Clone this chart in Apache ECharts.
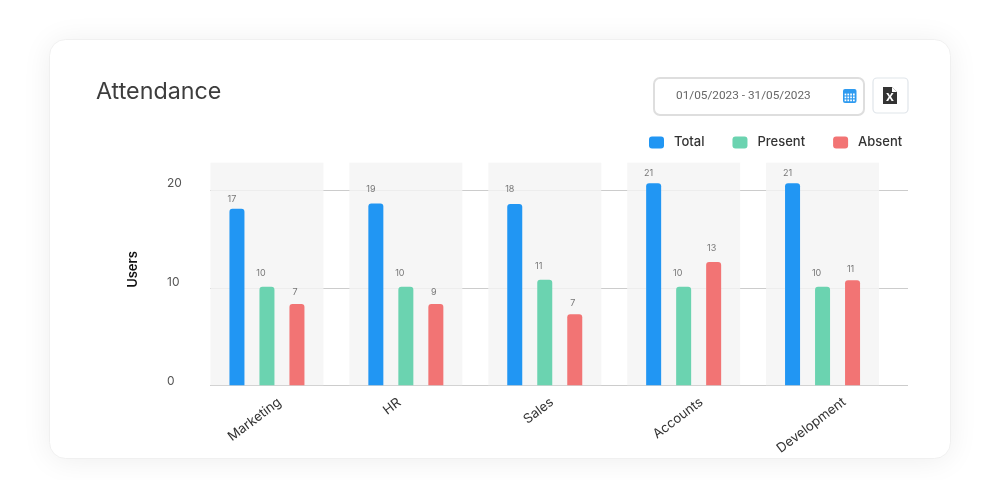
<!DOCTYPE html>
<html><head><meta charset="utf-8">
<style>html,body{margin:0;padding:0;background:#fff}#c{width:999px;height:480px}</style>
<script src="https://cdn.jsdelivr.net/npm/echarts@6/dist/echarts.min.js"></script>
</head><body><div id="c"></div>
<script>
const categories = ['Marketing','HR','Sales','Accounts','Development'];
const seriesNames = ['Total','Present','Absent'];
// bar heights as drawn
const totalBars = [17.9,18.45,18.4,20.5,20.5];
const presentBars = [10,10,10.7,10,10];
const absentBars = [8.25,8.25,7.2,12.5,10.65];
// numbers printed above the bars
const totalLabels = [17,19,18,21,21];
const presentLabels = [10,10,11,10,10];
const absentLabels = [7,9,7,13,11];
const backdrop = [0,0,0,0,0];
const yTicks = [0,10,20];
const titleText = 'Attendance';
const dateText = '01/05/2023 - 31/05/2023';
const yName = 'Users';

const FONT = 'Inter, Roboto, sans-serif';
const colors = ['#2196f3','#6bd3b0','#f27474'];
const chart = echarts.init(document.getElementById('c'), null, {renderer:'canvas'});

function barSeries(name, values, labels, color, off, lifts){
  return {
    name, type:'bar', xAxisIndex:0, yAxisIndex:0, barWidth:15, barGap:'100%', z:3,
    data:values.map((v,i)=>({value:v, label:{offset:[off[0], off[1]-((lifts&&lifts[i])||0)]}})),
    itemStyle:{color, borderRadius:[3,3,0,0]},
    label:{show:true, position:'top', distance:0, fontFamily:FONT, fontSize:9, color:'#777',
      formatter:p=>String(labels[p.dataIndex])}
  };
}
const calCells = [];
[0,1,2,3].forEach(c=>[0,1,2].forEach(r=>{
  calCells.push({type:'rect', shape:{x:844.6+c*2.8, y:93.6+r*2.9, width:1.7, height:1.8}, style:{fill:'#fff'}, z:5});
}));
// sideways nudge of each slanted category label along the axis
const nudge = [5,21,10.5,2.5,0];
const xRich = {};
categories.forEach((c,i)=>{
  xRich['n'+i] = {fontFamily:FONT, fontSize:13.2, color:'#333', padding:[0,nudge[i],nudge[i]*1.45,0]};
});

chart.setOption({
  animation:false,
  backgroundColor:'transparent',
  color:colors,
  title:{text:titleText, left:91, top:75.5, textStyle:{fontFamily:FONT, fontSize:23.3, fontWeight:400, color:'#3d3d3d'}},
  legend:{data:seriesNames, left:644, top:131, itemWidth:15, itemHeight:12, itemGap:28, icon:'roundRect',
    textStyle:{fontFamily:FONT, fontSize:13, fontWeight:500, color:'#333', padding:[1,0,0,5]}},
  grid:[
    {left:197.5, top:162.7, width:694.5, height:222.6},
    {left:210, top:190.3, width:698, height:195},
    {left:216, top:183.5, width:698, height:198}
  ],
  xAxis:[
    {gridIndex:0, type:'category', data:categories, axisLine:{show:false}, axisTick:{show:false}, axisLabel:{show:false}},
    {gridIndex:0, type:'category', data:categories, show:false},
    {gridIndex:1, type:'category', data:categories, show:false},
    {gridIndex:2, type:'category', data:categories, axisLine:{show:false}, axisTick:{show:false},
      axisLabel:{rotate:37, margin:19, interval:0, fontFamily:FONT, fontSize:13.2, color:'#333',
        formatter:(v,i)=>`{n${i}|${v}}`, rich:xRich}}
  ],
  yAxis:[
    {gridIndex:0, type:'value', min:0, max:22.58, interval:10,
      axisLine:{show:false}, axisTick:{show:false}, splitLine:{show:false}, axisLabel:{show:false},
      name:yName, nameLocation:'middle', nameRotate:90, nameGap:58,
      nameTextStyle:{fontFamily:FONT, fontSize:13, fontWeight:600, color:'#111', padding:[0,0,0,9]}},
    {gridIndex:1, type:'value', min:0, max:20, interval:10,
      axisLine:{show:false}, axisTick:{show:false}, axisLabel:{show:false},
      splitLine:{show:true, lineStyle:{color:'#cccccc', width:1}}},
    {gridIndex:2, type:'value', min:0, max:20, interval:10,
      axisLine:{show:false}, axisTick:{show:false}, splitLine:{show:false},
      axisLabel:{align:'left', margin:49, fontFamily:FONT, fontSize:12, color:'#555', customValues:yTicks}}
  ],
  series:[
    {name:'backdrop', type:'bar', xAxisIndex:1, yAxisIndex:0, data:backdrop, barWidth:113, z:1, silent:true,
      showBackground:true, backgroundStyle:{color:'rgba(244,244,244,0.82)'}, itemStyle:{color:'transparent'}},
    barSeries(seriesNames[0], totalBars, totalLabels, colors[0], [-5,-5], [0,5,5,0,0]),
    barSeries(seriesNames[1], presentBars, presentLabels, colors[1], [-6,-9]),
    barSeries(seriesNames[2], absentBars, absentLabels, colors[2], [-2,-7], [0,0,0,2,0])
  ],
  graphic:[
    {type:'rect', z:-100, shape:{x:49.5,y:39.5,width:901,height:419,r:16},
      style:{fill:'#fff', stroke:'#f0f0f0', lineWidth:1, shadowBlur:30, shadowColor:'rgba(0,0,0,0.07)', shadowOffsetY:2}},
    {type:'rect', z:1, shape:{x:654,y:78,width:210,height:37,r:6}, style:{fill:'#fff', stroke:'#dedede', lineWidth:2}},
    {type:'text', z:2, x:676, y:96, style:{text:dateText, fontFamily:'Roboto', fontSize:11.8, fill:'#666', verticalAlign:'middle', textAlign:'left'}},
    {type:'rect', z:3, shape:{x:843,y:89,width:13.5,height:14,r:2}, style:{fill:'#2f9bf0'}},
    ...calCells,
    {type:'rect', z:1, shape:{x:873,y:78,width:35,height:35,r:4}, style:{fill:'#fff', stroke:'#e0e5ea', lineWidth:1.2}},
    {type:'polygon', z:3, shape:{points:[[883,87],[892,87],[897,92],[897,104],[883,104]]}, style:{fill:'#333'}},
    {type:'polygon', z:4, shape:{points:[[892,87],[892,92],[897,92]]}, style:{fill:'#fff'}},
    {type:'text', z:5, x:890, y:97.5, style:{text:'x', fontFamily:'Liberation Sans', fontWeight:700, fontSize:14, fill:'#fff', textAlign:'center', verticalAlign:'middle'}}
  ]
});
</script></body></html>
